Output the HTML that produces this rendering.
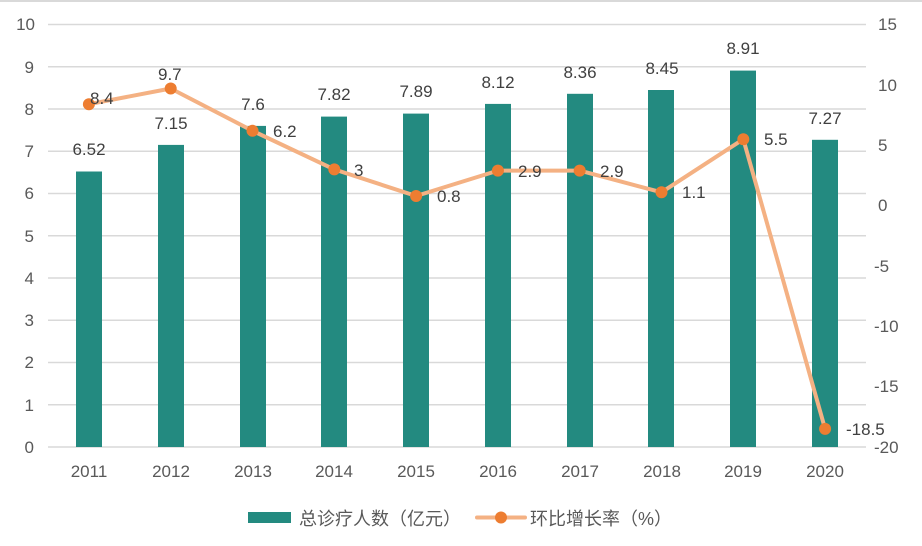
<!DOCTYPE html>
<html><head><meta charset="utf-8"><style>
html,body{margin:0;padding:0;background:#fff;}
svg{display:block;font-family:"Liberation Sans","Noto Sans CJK SC",sans-serif;}
</style></head><body>
<svg width="922" height="546" viewBox="0 0 922 546">
<line x1="0" y1="1" x2="922" y2="1" stroke="#d9d9d9" stroke-width="2"/>
<g stroke="#d9d9d9" stroke-width="1.5">
<line x1="48" x2="866" y1="447" y2="447"/><line x1="48" x2="866" y1="404.75" y2="404.75"/>
<line x1="48" x2="866" y1="362.5" y2="362.5"/><line x1="48" x2="866" y1="320.25" y2="320.25"/>
<line x1="48" x2="866" y1="278" y2="278"/><line x1="48" x2="866" y1="235.75" y2="235.75"/>
<line x1="48" x2="866" y1="193.5" y2="193.5"/><line x1="48" x2="866" y1="151.25" y2="151.25"/>
<line x1="48" x2="866" y1="109" y2="109"/><line x1="48" x2="866" y1="66.75" y2="66.75"/>
<line x1="48" x2="866" y1="24.5" y2="24.5"/>
</g>
<g fill="#595959" font-size="17" text-anchor="end">
<text x="34" y="453">0</text><text x="34" y="411">1</text><text x="34" y="368">2</text>
<text x="34" y="326">3</text><text x="34" y="284">4</text><text x="34" y="242">5</text>
<text x="34" y="199">6</text><text x="34" y="157">7</text><text x="34" y="115">8</text>
<text x="34" y="73">9</text><text x="35" y="30">10</text>
</g>
<g fill="#595959" font-size="17">
<text x="878" y="30">15</text><text x="878" y="91">10</text><text x="878" y="151">5</text>
<text x="878" y="211">0</text><text x="874" y="272">-5</text><text x="874" y="332">-10</text>
<text x="874" y="392">-15</text><text x="874" y="453">-20</text>
</g>
<g fill="#238a80">
<rect x="76" y="171.5" width="26" height="275.5"/>
<rect x="158" y="144.9" width="26" height="302.1"/>
<rect x="240" y="125.9" width="26" height="321.1"/>
<rect x="321" y="116.6" width="26" height="330.4"/>
<rect x="403" y="113.6" width="26" height="333.4"/>
<rect x="485" y="103.9" width="26" height="343.1"/>
<rect x="567" y="93.8" width="26" height="353.2"/>
<rect x="648" y="90" width="26" height="357"/>
<rect x="730" y="70.6" width="26" height="376.4"/>
<rect x="812" y="139.8" width="26" height="307.2"/>
</g>
<g fill="#404040" font-size="17" text-anchor="middle">
<text x="89" y="155">6.52</text><text x="171" y="129">7.15</text><text x="253" y="110">7.6</text>
<text x="334" y="100">7.82</text><text x="416" y="97">7.89</text><text x="498" y="88">8.12</text>
<text x="580" y="78">8.36</text><text x="662" y="74">8.45</text><text x="743" y="54">8.91</text>
<text x="825" y="124">7.27</text>
</g>
<polyline fill="none" stroke="#f4b183" stroke-width="4" stroke-linejoin="round" points="88.9,104.2 170.7,88.5 252.5,130.8 334.3,169.4 416.1,196 497.9,170.6 579.7,170.6 661.5,192.3 743.3,139.2 825.1,428.9"/>
<g fill="#ed7d31">
<circle cx="88.9" cy="104.2" r="6"/><circle cx="170.7" cy="88.5" r="6"/><circle cx="252.5" cy="130.8" r="6"/>
<circle cx="334.3" cy="169.4" r="6"/><circle cx="416.1" cy="196" r="6"/><circle cx="497.9" cy="170.6" r="6"/>
<circle cx="579.7" cy="170.6" r="6"/><circle cx="661.5" cy="192.3" r="6"/><circle cx="743.3" cy="139.2" r="6"/>
<circle cx="825.1" cy="428.9" r="6"/>
</g>
<g fill="#404040" font-size="17">
<text x="90" y="104">8.4</text><text x="158" y="80">9.7</text><text x="273" y="137">6.2</text>
<text x="354" y="176">3</text><text x="437" y="202">0.8</text><text x="518" y="177">2.9</text>
<text x="600" y="177">2.9</text><text x="682" y="198">1.1</text><text x="764" y="145">5.5</text>
<text x="846" y="435">-18.5</text>
</g>
<g fill="#595959" font-size="17" text-anchor="middle">
<text x="89" y="477">2011</text><text x="171" y="477">2012</text><text x="253" y="477">2013</text>
<text x="334" y="477">2014</text><text x="416" y="477">2015</text><text x="498" y="477">2016</text>
<text x="580" y="477">2017</text><text x="662" y="477">2018</text><text x="743" y="477">2019</text>
<text x="825" y="477">2020</text>
</g>
<rect x="248" y="512" width="43" height="11" fill="#238a80"/>
<text x="299" y="525" font-size="18" fill="#595959">总诊疗人数（亿元）</text>
<line x1="477" y1="517.5" x2="525" y2="517.5" stroke="#f4b183" stroke-width="4" stroke-linecap="round"/>
<circle cx="501" cy="517.5" r="6" fill="#ed7d31"/>
<text x="530" y="525" font-size="18" fill="#595959">环比增长率（%）</text>
</svg>
</body></html>
